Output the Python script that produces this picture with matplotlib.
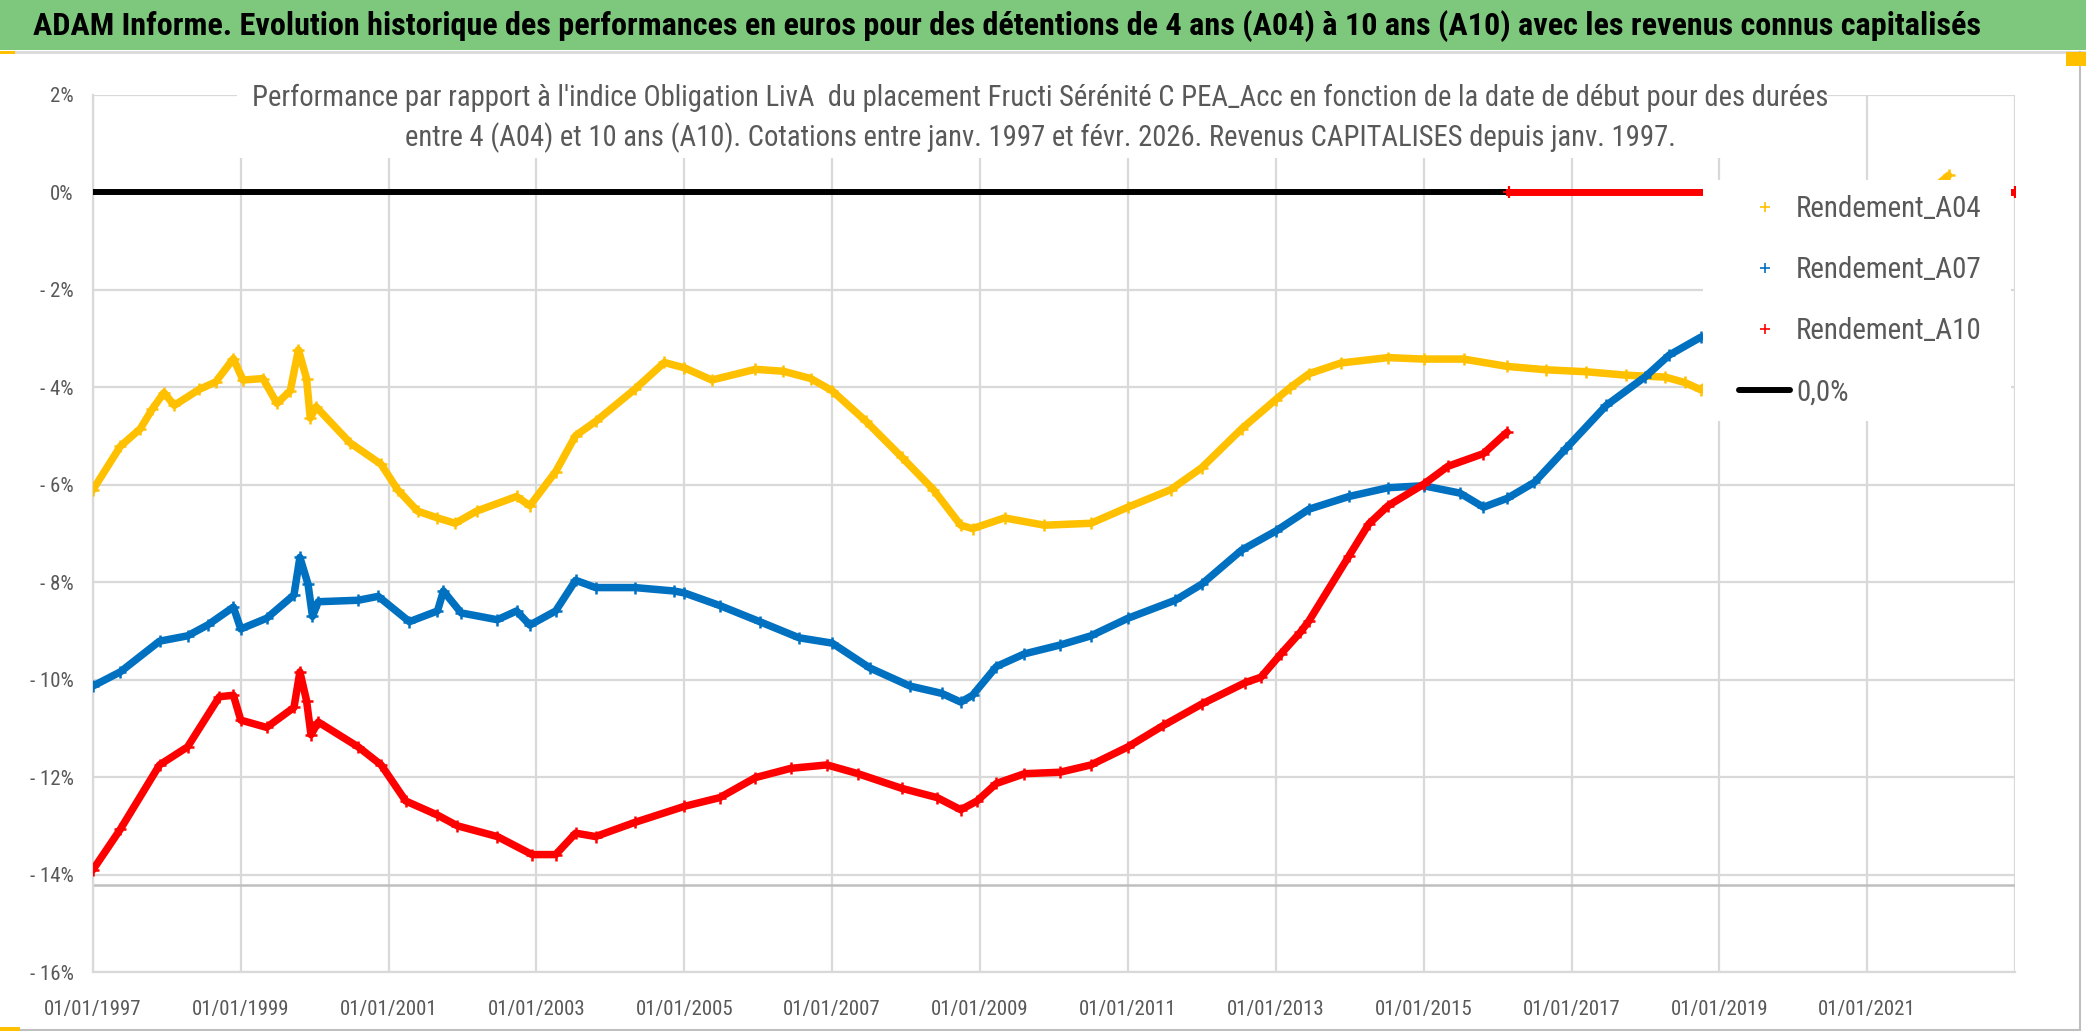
import datetime as dt
import matplotlib
matplotlib.use("Agg")
import matplotlib.pyplot as plt
import matplotlib.dates as mdates
from matplotlib import font_manager as fm
from matplotlib.patches import Rectangle
from matplotlib.lines import Line2D
from matplotlib.ticker import FuncFormatter, FixedLocator

# police étroite (proche de Calibri) si disponible, sinon DejaVu
_avail = {f.name for f in fm.fontManager.ttflist}
FONT = next(f for f in ['Liberation Sans Narrow', 'Roboto Condensed', 'DejaVu Sans']
            if f in _avail or f == 'DejaVu Sans')
plt.rcParams['font.family'] = [FONT, 'DejaVu Sans']

# --- Données (date de début en années décimales, perf en %) ---
a04_years = [1997.0, 1997.37, 1997.64, 1997.8, 1997.96, 1998.1, 1998.44, 1998.66, 1998.9,
             1999.03, 1999.3, 1999.49, 1999.67, 1999.78, 1999.89, 1999.94, 2000.02, 2000.48,
             2000.9, 2001.12, 2001.39, 2001.66, 2001.9, 2002.19, 2002.73, 2002.91, 2003.26,
             2003.53, 2003.8, 2004.33, 2004.73, 2005.0, 2005.37, 2005.96, 2006.34, 2006.71,
             2007.0, 2007.46, 2007.94, 2008.37, 2008.74, 2008.9, 2009.33, 2009.87, 2010.5,
             2011.0, 2011.58, 2012.0, 2012.54, 2013.0, 2013.19, 2013.45, 2013.88, 2014.52,
             2015.0, 2015.54, 2016.13, 2016.66, 2017.2, 2017.73, 2018.27, 2018.53, 2018.75,
             2022.1]
a04_vals = [-6.10, -5.21, -4.85, -4.45, -4.11, -4.37, -4.04, -3.89, -3.41,
            -3.85, -3.82, -4.33, -4.07, -3.23, -3.82, -4.63, -4.40, -5.14,
            -5.58, -6.10, -6.54, -6.68, -6.79, -6.54, -6.24, -6.43, -5.73,
            -4.99, -4.70, -4.04, -3.49, -3.60, -3.85, -3.63, -3.67, -3.82,
            -4.07, -4.70, -5.43, -6.10, -6.83, -6.90, -6.68, -6.83, -6.79,
            -6.46, -6.10, -5.65, -4.85, -4.25, -4.01, -3.72, -3.50, -3.39,
            -3.42, -3.42, -3.57, -3.64, -3.68, -3.75, -3.79, -3.90, -4.05,
            0.35]

a07_years = [1997.0, 1997.37, 1997.9, 1998.28, 1998.55, 1998.9, 1999.0, 1999.35, 1999.72,
             1999.8, 1999.91, 1999.97, 2000.05, 2000.59, 2000.86, 2001.28, 2001.66, 2001.74,
             2001.98, 2002.47, 2002.73, 2002.91, 2003.26, 2003.53, 2003.8, 2004.33, 2004.86,
             2005.0, 2005.48, 2006.02, 2006.55, 2007.0, 2007.51, 2008.05, 2008.48, 2008.74,
             2008.9, 2009.22, 2009.6, 2010.08, 2010.5, 2011.0, 2011.64, 2012.0, 2012.54,
             2013.0, 2013.45, 2013.99, 2014.52, 2015.0, 2015.49, 2015.81, 2016.13, 2016.5,
             2016.93, 2017.47, 2018.0, 2018.32, 2018.75]
a07_vals = [-10.13, -9.84, -9.21, -9.10, -8.88, -8.51, -8.96, -8.74, -8.26,
            -7.49, -8.04, -8.70, -8.40, -8.37, -8.29, -8.81, -8.59, -8.18,
            -8.63, -8.77, -8.59, -8.88, -8.59, -7.96, -8.11, -8.11, -8.18,
            -8.22, -8.48, -8.81, -9.14, -9.25, -9.76, -10.13, -10.28, -10.46,
            -10.32, -9.73, -9.47, -9.29, -9.10, -8.74, -8.37, -8.04, -7.34,
            -6.95, -6.50, -6.24, -6.06, -6.02, -6.17, -6.46, -6.28, -5.95,
            -5.25, -4.37, -3.78, -3.34, -2.97]

a10_years = [1997.0, 1997.37, 1997.9, 1998.28, 1998.71, 1998.9, 1999.0, 1999.35, 1999.72,
             1999.8, 1999.89, 1999.95, 2000.05, 2000.59, 2000.9, 2001.23, 2001.66, 2001.93,
             2002.47, 2002.94, 2003.26, 2003.53, 2003.8, 2004.33, 2005.0, 2005.48, 2005.96,
             2006.44, 2006.93, 2007.35, 2007.94, 2008.42, 2008.74, 2008.96, 2009.22, 2009.6,
             2010.08, 2010.5, 2011.0, 2011.48, 2012.0, 2012.59, 2012.8, 2013.07, 2013.33,
             2013.45, 2013.99, 2014.26, 2014.52, 2015.0, 2015.33, 2015.81, 2016.13]
a10_vals = [-13.90, -13.07, -11.75, -11.38, -10.35, -10.32, -10.83, -10.98, -10.57,
            -9.84, -10.43, -11.13, -10.87, -11.38, -11.75, -12.49, -12.78, -13.00,
            -13.22, -13.59, -13.59, -13.15, -13.22, -12.93, -12.60, -12.42, -12.01,
            -11.82, -11.75, -11.93, -12.23, -12.42, -12.67, -12.49, -12.13, -11.93,
            -11.90, -11.75, -11.38, -10.94, -10.50, -10.06, -9.95, -9.47, -9.03,
            -8.79, -7.46, -6.80, -6.43, -5.99, -5.62, -5.36, -4.92]
# A10 sans valeur (affiché à 0) après 2016
a10_zero_years = [2016.15, 2023.0]
a10_zero_vals = [0.0, 0.0]

ref_years = [1997.0, 2023.0]
ref_vals = [0.0, 0.0]
bottom_line = -14.22

tick_years = [1997, 1999, 2001, 2003, 2005, 2007, 2009, 2011, 2013, 2015, 2017, 2019, 2021]
yticks = [2, 0, -2, -4, -6, -8, -10, -12, -14, -16]

TITLE = ("ADAM Informe. Evolution historique des performances en euros pour des détentions "
         "de 4 ans (A04) à 10 ans (A10) avec les revenus connus capitalisés")
SUB1 = ("Performance par rapport à l'indice Obligation LivA  du placement Fructi Sérénité C "
        "PEA_Acc en fonction de la date de début pour des durées")
SUB2 = ("entre 4 (A04) et 10 ans (A10). Cotations entre janv. 1997 et févr. 2026. "
        "Revenus CAPITALISES depuis janv. 1997.")
labels = ['Rendement_A04', 'Rendement_A07', 'Rendement_A10', '0,0%']

YELLOW, BLUE, RED = '#FFC000', '#0070C0', '#FF0000'
GREY_TXT = '#595959'
GRID = '#D9D9D9'


def to_dates(years):
    out = []
    for y in years:
        base = dt.datetime(int(y), 1, 1)
        out.append(base + dt.timedelta(days=(y - int(y)) * 365.25))
    return out


def pct_fmt(v, pos):
    if v < 0:
        return f"- {abs(v):.0f}%"
    return f"{v:.0f}%"


def fit(text, target_px, renderer):
    w = text.get_window_extent(renderer).width
    text.set_fontsize(text.get_fontsize() * target_px / w)


W, H = 2086, 1031
fig = plt.figure(figsize=(W / 100, H / 100), dpi=100)
fig.patch.set_facecolor('white')
renderer = fig.canvas.get_renderer()

# tailles de police calées sur les largeurs mesurées dans l'image
probe = fig.text(0, 0, '01/01/1997', fontsize=15)
fit(probe, 98, renderer)
TICK_FS = probe.get_fontsize()
probe.set_text('Rendement_A04')
probe.set_fontsize(20)
fit(probe, 186, renderer)
LEG_FS = probe.get_fontsize()
probe.remove()
LEG_PX = LEG_FS / 0.72

ax = fig.add_axes([93 / W, 1 - 972 / H, (2015 - 93) / W, (972 - 95) / H])
ax.set_ylim(-16, 2)
ax.set_xlim(to_dates([1997.0])[0], to_dates([2023.0])[0])

style = dict(lw=5.4, marker='+', ms=9, mew=1.8, solid_capstyle='round', zorder=3)
ax.plot(to_dates(a04_years), a04_vals, color=YELLOW, **style)
ax.plot(to_dates(a07_years), a07_vals, color=BLUE, **style)
ax.plot(to_dates(a10_years), a10_vals, color=RED, **style)
ax.plot(to_dates(ref_years), ref_vals, color='black', lw=4.3, solid_capstyle='round', zorder=4)
ax.plot(to_dates(a10_zero_years), a10_zero_vals, color=RED, lw=5, marker='+', ms=9, mew=1.6,
        zorder=5)
ax.axhline(bottom_line, color='#BFBFBF', lw=1.8, zorder=2)

ax.set_yticks(yticks)
ax.yaxis.set_major_formatter(FuncFormatter(pct_fmt))
ax.xaxis.set_major_locator(FixedLocator(mdates.date2num(to_dates(tick_years))))
ax.xaxis.set_major_formatter(mdates.DateFormatter('%d/%m/%Y'))
ax.grid(True, color=GRID, lw=1.6, zorder=0)
ax.set_axisbelow(True)
ax.tick_params(length=0, labelsize=TICK_FS, labelcolor=GREY_TXT)
ax.tick_params(axis='y', pad=14)
ax.tick_params(axis='x', pad=20)
for s in ['top', 'right']:
    ax.spines[s].set_visible(False)
for s in ['left', 'bottom']:
    ax.spines[s].set_color(GRID)
    ax.spines[s].set_linewidth(1.6)
ax.axvline(to_dates([2023.0])[0], color=GRID, lw=1.6, zorder=0)

# zone blanche de la légende (plus large que son contenu, comme dans Excel)
ax.add_patch(Rectangle((1703 / W, 1 - 421 / H), (2011 - 1703) / W, (421 - 180) / H,
                       transform=fig.transFigure, facecolor='white', edgecolor='none',
                       zorder=9, clip_on=False))
handles = [Line2D([], [], color=YELLOW, marker='+', ls='none', ms=7, mew=1.2),
           Line2D([], [], color=BLUE, marker='+', ls='none', ms=7, mew=1.2),
           Line2D([], [], color=RED, marker='+', ls='none', ms=7, mew=1.2),
           Line2D([], [], color='black', lw=4.3, solid_capstyle='round')]
leg = ax.legend(handles, labels, loc='upper left', bbox_to_anchor=(1722 / W, 1 - 178 / H),
                bbox_transform=fig.transFigure, frameon=False, fontsize=LEG_FS,
                labelspacing=33.0 / LEG_PX, handlelength=1.75,
                handletextpad=0.2, borderpad=0.6, borderaxespad=0)
for t in leg.get_texts():
    t.set_color(GREY_TXT)
leg.set_zorder(10)

# bandeau titre
fig.patches.append(Rectangle((0, 1 - 50 / H), 1, 50 / H, transform=fig.transFigure,
                             facecolor='#7EC87E', edgecolor='none', zorder=1))
fig.lines.append(Line2D([0, 1], [1 - 52 / H, 1 - 52 / H], transform=fig.transFigure,
                        color='#D9D9D9', lw=2, zorder=1))
title = fig.text(33 / W, 1 - 26 / H, TITLE, ha='left', va='center', fontsize=21,
                 weight='bold', color='black', zorder=2)
fit(title, 1956, renderer)

# titre du graphique (fond blanc qui masque le quadrillage)
fig.patches.append(Rectangle((237 / W, 1 - 158 / H), (1827 - 237) / W, 70 / H,
                             transform=fig.transFigure, facecolor='white', edgecolor='none',
                             zorder=2))
s1 = fig.text(1040 / W, 1 - 98 / H, SUB1, ha='center', va='center', fontsize=19,
              color=GREY_TXT, zorder=3)
fit(s1, 1572, renderer)
s2 = fig.text(1040 / W, 1 - 138 / H, SUB2, ha='center', va='center',
              fontsize=s1.get_fontsize(), color=GREY_TXT, zorder=3)

# cadre du graphique
fig.lines.append(Line2D([2080 / W, 2080 / W], [0, 1 - 52 / H], transform=fig.transFigure,
                        color='#BFBFBF', lw=1.5, zorder=1))
fig.lines.append(Line2D([0, 2080 / W], [1.5 / H, 1.5 / H], transform=fig.transFigure,
                        color='#BFBFBF', lw=1.5, zorder=1))
fig.patches.append(Rectangle((0, 0), 20 / W, 4 / H, transform=fig.transFigure,
                             facecolor='#FFC000', edgecolor='none', zorder=2))
fig.patches.append(Rectangle((0, 1 - 54 / H), 15 / W, 3 / H, transform=fig.transFigure,
                             facecolor='#FFC000', edgecolor='none', zorder=2))
fig.patches.append(Rectangle((2066 / W, 1 - 66 / H), 20 / W, 14 / H, transform=fig.transFigure,
                             facecolor='#FFC000', edgecolor='none', zorder=2))

fig.savefig('out.png', dpi=100)
